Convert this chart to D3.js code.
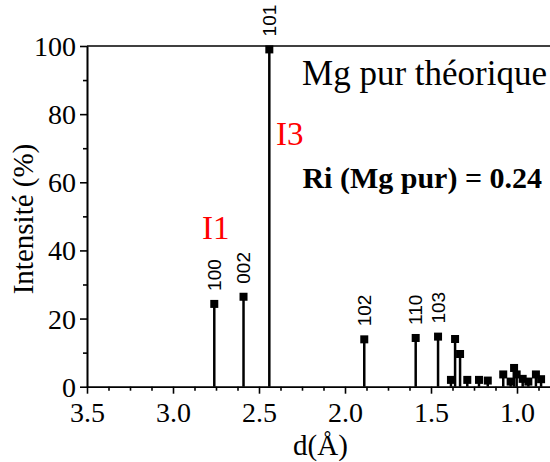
<!DOCTYPE html>
<html><head><meta charset="utf-8">
<script src="https://cdn.jsdelivr.net/npm/d3@7"></script>
<style>body{margin:0;background:#fff}svg{display:block}</style>
</head><body>
<script>
const dValues = [2.76, 2.59, 2.44, 1.888, 1.589, 1.459, 1.384, 1.360, 1.331, 1.289, 1.221, 1.170, 1.080, 1.037, 1.017, 1.002, 0.967, 0.934, 0.890, 0.860];
const intensities = [24.3, 26.4, 99, 13.9, 14.3, 14.7, 2.0, 14.0, 9.6, 2.0, 2.0, 1.8, 3.6, 1.5, 5.5, 3.6, 2.3, 1.5, 3.6, 2.2];
const hkl = ["100", "002", "101", "102", "110", "103", "", "", "", "", "", "", "", "", "", "", "", "", "", ""];
const xTicks = [3.5, 3.0, 2.5, 2.0, 1.5, 1.0];
const yTicks = [0, 20, 40, 60, 80, 100];

const W = 550, H = 462;
const svg = d3.select("body").append("svg").attr("width", W).attr("height", H);
const x = d3.scaleLinear().domain([3.5, 0.8]).range([87, 551.4]);
const y = d3.scaleLinear().domain([0, 100]).range([386.7, 46]);
const serif = "Liberation Serif, Times New Roman, Times, serif";
const sans = "Liberation Sans, Arial, Helvetica, sans-serif";

// axes
const xAxis = svg.append("g").attr("transform", `translate(0,${y(0)})`)
  .call(d3.axisBottom(x).tickValues(xTicks).tickFormat(d3.format(".1f")).tickSize(7).tickSizeOuter(0));
const xMinor = svg.append("g").attr("transform", `translate(0,${y(0)})`)
  .call(d3.axisBottom(x).tickValues(d3.range(0, 22).map(i => 3.5 - i * 0.125).filter(v => v > 0.8 && xTicks.indexOf(v) < 0)).tickFormat("").tickSize(4).tickSizeOuter(0));
const yAxis = svg.append("g").attr("transform", `translate(${x(3.5)},0)`)
  .call(d3.axisLeft(y).tickValues(yTicks).tickSize(7).tickSizeOuter(0));
const yMinor = svg.append("g").attr("transform", `translate(${x(3.5)},0)`)
  .call(d3.axisLeft(y).tickValues([10, 30, 50, 70, 90]).tickFormat("").tickSize(4).tickSizeOuter(0));
[xAxis, xMinor, yAxis, yMinor].forEach(g => {
  g.attr("font-family", serif).attr("font-size", 28);
  g.selectAll("path,line").attr("stroke", "#000").attr("stroke-width", 1.6);
  g.selectAll("text").attr("fill", "#000");
});
xAxis.selectAll("text").attr("dy", null).attr("y", 35);
yAxis.selectAll("text").attr("x", -11).attr("dy", "0.34em");
// top line
svg.append("line").attr("x1", x(3.5)).attr("x2", W).attr("y1", y(100)).attr("y2", y(100))
  .attr("stroke", "#000").attr("stroke-width", 1.6);

// stems
const data = dValues.map((d, i) => ({ d, v: intensities[i], lab: hkl[i] }));
svg.append("g").selectAll("line").data(data).join("line")
  .attr("x1", p => x(p.d)).attr("x2", p => x(p.d)).attr("y1", y(0)).attr("y2", p => y(p.v))
  .attr("stroke", "#000").attr("stroke-width", 2.5);
const ms = 8;
svg.append("g").selectAll("rect").data(data).join("rect")
  .attr("x", p => x(p.d) - ms / 2).attr("y", p => y(p.v) - ms / 2)
  .attr("width", ms).attr("height", ms).attr("fill", "#000");
svg.append("g").attr("font-family", sans).attr("font-size", 19)
  .selectAll("text").data(data.filter(p => p.lab)).join("text")
  .attr("transform", p => `translate(${x(p.d)},${y(p.v) - ms / 2 - 9}) rotate(-90)`)
  .attr("dominant-baseline", "central").attr("fill", "#000")
  .text(p => p.lab);

// titles
svg.append("text").attr("x", 320.5).attr("y", 455).attr("text-anchor", "middle")
  .attr("font-family", serif).attr("font-size", 29).text("d(Å)");
svg.append("text").attr("transform", "translate(33,219) rotate(-90)").attr("text-anchor", "middle")
  .attr("font-family", serif).attr("font-size", 29).text("Intensité (%)");

svg.append("text").attr("x", 547).attr("y", 85).attr("text-anchor", "end")
  .attr("font-family", serif).attr("font-size", 35).text("Mg pur théorique");
svg.append("text").attr("x", 542).attr("y", 188).attr("text-anchor", "end")
  .attr("font-family", serif).attr("font-size", 30).attr("font-weight", "bold").text("Ri (Mg pur) = 0.24");
svg.append("text").attr("x", 276).attr("y", 145)
  .attr("font-family", serif).attr("font-size", 33).attr("fill", "#ff0000").text("I3");
svg.append("text").attr("x", 202).attr("y", 239)
  .attr("font-family", serif).attr("font-size", 33).attr("fill", "#ff0000").text("I1");
</script>
</body></html>
